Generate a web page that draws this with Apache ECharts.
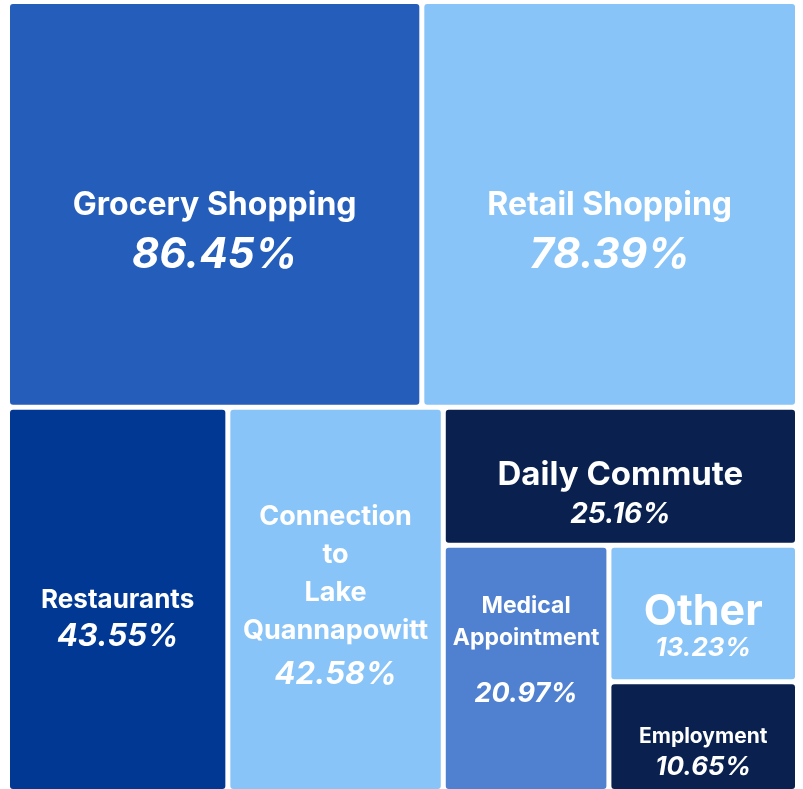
<!DOCTYPE html>
<html>
<head>
<meta charset="utf-8">
<script src="https://cdn.jsdelivr.net/npm/echarts@6/dist/echarts.min.js"></script>
<style>
  html, body { margin: 0; padding: 0; background: #fff; }
  #chart { width: 803px; height: 789px; }
</style>
</head>
<body>
<div id="chart"></div>
<script>
// share of respondents per trip purpose
const categories = ['Grocery Shopping', 'Retail Shopping', 'Restaurants', 'Connection to Lake Quannapowitt',
  'Daily Commute', 'Medical Appointment', 'Other', 'Employment'];
const values = [86.45, 78.39, 43.55, 42.58, 25.16, 20.97, 13.23, 10.65];
// how each name is broken into lines on its tile
const nameLines = [
  ['Grocery Shopping'], ['Retail Shopping'], ['Restaurants'], ['Connection', 'to', 'Lake', 'Quannapowitt'],
  ['Daily Commute'], ['Medical', 'Appointment'], ['Other'], ['Employment']
];

const colors = ['#245eba', '#89c4f8', '#003893', '#89c4f8', '#0a2150', '#5080d0', '#89c4f8', '#0a2150'];
// [name size, name line height, value size, value line height, distance from tile top]
// treemap labels sit at the top of the tile, so the offset pushes them down
const labelStyle = [
  [32, 40, 42, 60, 176],
  [32, 40, 42, 60, 176],
  [26, 32, 31, 42, 169],
  [27, 38, 31, 50, 83],
  [33, 44, 28, 36, 38],
  [23, 32, 27, 80, 37],
  [43, 44, 26, 28, 37],
  [21, 28, 26, 34, 33]
];

function leaf(i) {
  const s = labelStyle[i];
  return {
    name: categories[i],
    value: values[i],
    itemStyle: { color: colors[i] },
    label: {
      offset: [0, s[4]],
      formatter: function () {
        const lines = nameLines[i].map(t => '{n|' + t + '}').join('\n');
        return lines + '\n{v|' + values[i].toFixed(2) + '%}';
      },
      rich: {
        n: { fontSize: s[0], lineHeight: s[1], fontWeight: 'bold', color: '#fff', fontFamily: 'Inter', align: 'center' },
        v: { fontSize: s[2], lineHeight: s[3], fontWeight: 'bold', fontStyle: 'italic', color: '#fff', fontFamily: 'Inter', align: 'center' }
      }
    }
  };
}

// the small tiles are nested so they stack the same way as the original
const data = [
  leaf(0), leaf(1), leaf(2), leaf(3),
  { name: 'g1', children: [
    leaf(4),
    { name: 'g2', children: [
      leaf(5),
      { name: 'g3', children: [leaf(6), leaf(7)] }
    ] }
  ] }
];

const chart = echarts.init(document.getElementById('chart'));
chart.setOption({
  animation: false,
  series: [{
    type: 'treemap',
    left: 10,
    top: 4,
    width: 785,
    height: 785,
    sort: false,
    squareRatio: 1,
    roam: false,
    nodeClick: false,
    breadcrumb: { show: false },
    itemStyle: { borderWidth: 0, gapWidth: 5, borderColor: '#fff', borderRadius: 3 },
    label: { show: true, position: 'inside', overflow: 'none', align: 'center', verticalAlign: 'middle' },
    upperLabel: { show: false },
    data: data
  }]
});
</script>
</body>
</html>
